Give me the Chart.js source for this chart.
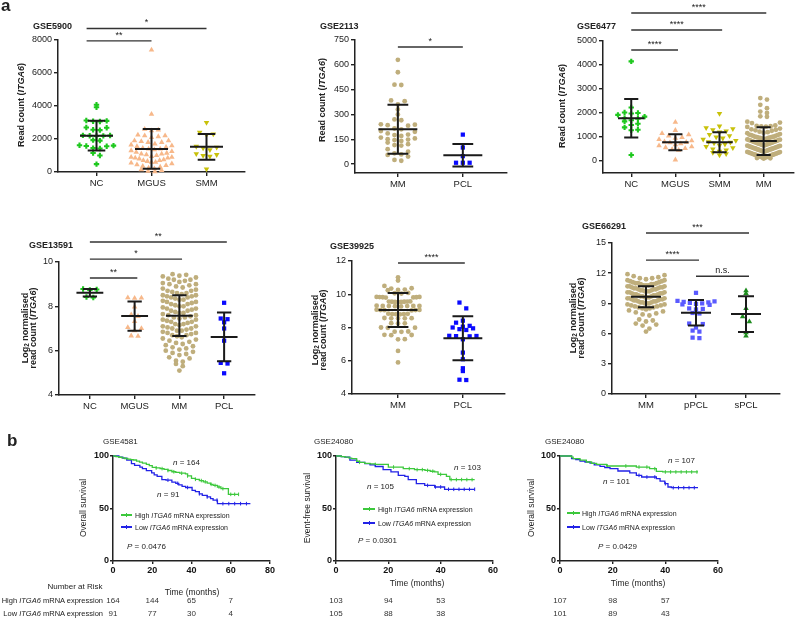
<!DOCTYPE html>
<html><head><meta charset="utf-8">
<script src="https://cdn.jsdelivr.net/npm/chart.js@4.4.1/dist/chart.umd.min.js"></script>
<style>
body{margin:0;background:#fff;}
#root{position:relative;width:798px;height:618px;overflow:hidden;font-family:'Liberation Sans',Arial,sans-serif;color:#222;}
canvas{position:absolute;}
.t{position:absolute;white-space:nowrap;line-height:1;}
sub{font-size:0.7em;vertical-align:-0.2em;line-height:0;}
</style></head><body><div id="root"></div>
<script>
// ---------------- DATA ----------------
// GSE5900
const cats5900 = ['NC','MGUS','SMM'];
const nc5900 = [4080,3920,3120,3080,3100,3060,2700,2680,2560,2540,2220,2200,2190,2210,2180,1930,1900,1620,1580,1560,1600,1420,1450,1150,1000,480];
const mgus5900 = [7400,3500,2600,2550,2500,2250,2200,2200,2150,2100,1900,1900,1850,1800,1800,1700,1650,1600,1550,1500,1450,1400,1400,1350,1300,1250,1200,1150,1100,1100,1050,1000,950,900,900,850,850,800,750,700,700,650,600,600,550,500,450,400,350,300,250,200,150,100,50,20];
const smm5900 = [3000,2400,2250,2300,1550,1500,1350,1450,1100,1050,1000,950,180];
const mean5900 = [2200,1400,1530];
const sd5900 = [900,1200,780];
const yTicks5900 = [0,2000,4000,6000,8000];
const sig5900 = [['NC','MGUS','**'],['NC','SMM','*']];

// GSE2113
const cats2113 = ['MM','PCL'];
const mm2113 = [630,555,480,478,385,380,360,330,300,270,265,240,238,235,232,215,210,200,195,185,178,175,170,160,155,150,148,145,140,130,120,115,112,90,75,65,58,55,45,25,20];
const pcl2113 = [178,100,48,8,8,8];
const mean2113 = [210,54];
const sd2113 = [148,68];
const yTicks2113 = [0,150,300,450,600,750];
const sig2113 = [['MM','PCL','*']];

// GSE6477
const cats6477 = ['NC','MGUS','SMM','MM'];
const nc6477 = [4150,2230,2020,2000,1980,1920,1850,1780,1760,1700,1650,1550,1500,1400,1300,1280,250];
const mgus6477 = [1620,1280,1150,1100,1050,980,950,900,850,800,780,760,720,680,640,600,560,520,480,450,50];
const smm6477 = [1980,1450,1380,1340,1300,1250,1200,1100,1050,1000,950,900,850,800,780,750,700,650,600,550,500,450,400,350,300,250];
const mm6477 = [2620,2560,2340,2200,2060,2000,1860,1840,1640,1600,1580,1480,1460,1450,1440,1430,1420,1350,1320,1300,1280,1260,1220,1200,1180,1160,1120,1100,1090,1080,1060,1050,1020,1010,1000,990,980,970,960,950,930,920,910,900,890,880,870,860,850,840,830,820,810,800,790,780,770,760,750,740,730,720,710,700,690,680,670,660,650,640,630,620,610,600,590,580,570,560,550,540,530,520,510,500,490,480,470,460,450,440,430,420,410,400,390,380,370,360,350,340,330,320,310,300,290,280,270,260,250,240,230,220,210,200,190,180,170,160,150,140,130,120,110,100];
const mean6477 = [1780,780,780,830];
const sd6477 = [800,330,420,580];
const yTicks6477 = [0,1000,2000,3000,4000,5000];
const sig6477 = [['NC','MGUS','****'],['NC','SMM','****'],['NC','MM','****']];

// GSE13591
const cats13591 = ['NC','MGUS','MM','PCL'];
const nc13591 = [8.78,8.76,8.74,8.42,8.40];
const mgus13591 = [8.39,8.38,8.37,7.98,7.62,7.55,7.32,7.05,7.0,6.9,6.67,6.65];
const mm13591 = [9.45,9.42,9.38,9.35,9.3,9.25,9.2,9.2,9.15,9.1,9.05,9.0,9.0,8.95,8.9,8.85,8.8,8.75,8.7,8.7,8.65,8.6,8.6,8.55,8.5,8.5,8.45,8.45,8.4,8.4,8.35,8.3,8.3,8.25,8.2,8.2,8.15,8.1,8.1,8.05,8.0,8.0,7.95,7.9,7.9,7.85,7.8,7.8,7.75,7.7,7.7,7.65,7.6,7.6,7.55,7.5,7.5,7.45,7.4,7.4,7.35,7.3,7.3,7.25,7.2,7.2,7.15,7.1,7.1,7.05,7.0,7.0,6.95,6.9,6.9,6.85,6.8,6.8,6.75,6.7,6.7,6.65,6.6,6.55,6.5,6.45,6.4,6.35,6.3,6.25,6.2,6.15,6.1,6.05,6.0,5.95,5.9,5.85,5.8,5.7,5.65,5.55,5.5,5.4,5.3,5.1];
const pcl13591 = [8.16,7.45,7.42,7.28,7.0,6.45,5.45,5.42,4.98];
const mean13591 = [8.61,7.56,7.58,6.62];
const sd13591 = [0.17,0.66,0.92,1.1];
const yTicks13591 = [4,6,8,10];
const sig13591 = [['NC','MGUS','**'],['NC','MM','*'],['NC','PCL','**']];

// GSE39925
const cats39925 = ['MM','PCL'];
const mm39925 = [11.02,10.82,10.5,10.36,10.34,10.28,10.26,10.24,10.08,10.06,10.04,9.84,9.83,9.82,9.81,9.8,9.82,9.84,9.56,9.55,9.54,9.56,9.57,9.53,9.55,9.54,9.3,9.29,9.28,9.3,9.31,9.27,9.29,9.3,9.05,9.04,9.06,9.05,9.03,9.07,8.81,8.8,8.82,8.79,8.81,8.83,8.55,8.56,8.54,8.55,8.57,8.25,8.26,8.24,7.99,8.0,7.98,7.75,7.76,7.74,7.55,7.56,7.54,7.29,7.3,6.59,5.9];
const pcl39925 = [9.5,9.15,8.41,8.29,8.1,8.05,8.0,7.95,7.9,7.85,7.5,7.49,7.48,7.47,7.29,6.49,6.09,5.55,5.38,4.84,4.86];
const mean39925 = [9.05,7.35];
const sd39925 = [1.02,1.32];
const yTicks39925 = [4,6,8,10,12];
const sig39925 = [['MM','PCL','****']];

// GSE66291
const cats66291 = ['MM','pPCL','sPCL'];
const mm66291 = [11.9,11.8,11.7,11.6,11.5,11.5,11.4,11.3,11.3,11.2,11.2,11.1,11.1,11.0,11.0,11.0,10.9,10.9,10.9,10.8,10.8,10.8,10.7,10.7,10.7,10.6,10.6,10.6,10.5,10.5,10.5,10.4,10.4,10.4,10.3,10.3,10.3,10.2,10.2,10.2,10.1,10.1,10.1,10.0,10.0,10.0,9.9,9.9,9.9,9.8,9.8,9.8,9.7,9.7,9.7,9.6,9.6,9.6,9.5,9.5,9.5,9.4,9.4,9.4,9.3,9.3,9.3,9.2,9.2,9.2,9.1,9.1,9.1,9.0,9.0,9.0,8.9,8.9,8.8,8.8,8.7,8.7,8.6,8.6,8.5,8.5,8.4,8.3,8.2,8.1,8.0,7.9,7.8,7.4,7.3,7.2,7.0,6.9,6.8,6.5,6.2];
const ppcl66291 = [10.05,9.25,9.2,9.15,9.1,9.05,9.0,8.95,8.9,8.85,8.5,8.45,8.4,8.05,8.0,7.0,6.95,6.6,6.3,6.2,5.6,5.55];
const spcl66291 = [10.26,10.0,8.51,7.68,7.18,6.09,5.76];
const mean66291 = [9.66,8.08,7.94];
const sd66291 = [1.05,1.27,1.77];
const yTicks66291 = [0,3,6,9,12,15];
const sig66291 = [['MM','sPCL','***'],['MM','pPCL','****'],['pPCL','sPCL','n.s.']];

// Kaplan-Meier: GSE4581 (overall survival)
const tHigh4581 = [0,1.5,3,4.5,6,7.5,9,10.3,12,13.5,15,17,18.5,20,22,24,26,28,30,32,34,36.9,38,40,42,44,46,48,49.7,51,53.2,55,58.8,64];
const sHigh4581 = [100,99.4,98.8,98.2,97.6,97,96.6,96.2,95.2,94.2,93.2,92,90.8,89.2,88.6,88,87.2,86.2,85,84.4,83.6,82.9,81,78.7,77.8,76.6,75.4,74.2,73,72,70.5,68.9,63.5,63.5];
const tLow4581 = [0,3,5,7,9.4,11,13.7,15,17,19.7,21,22.5,24.9,27,30,32,33.5,35.2,37,40.3,42,44,45.5,48,49.7,51,53.2,70];
const sLow4581 = [100,99,98,96,92.7,91,89.5,88,86,84,82,80.6,77.5,77,75.2,74,72.5,71.1,70,67.3,66,64,62.5,61,59.4,58,54.6,54.6];
const cHigh4581 = [22,25,28,31,35,38,42,45,47,50,52,54,56,60,62,64];
const cLow4581 = [28,33,38,44,48,53,56,59,62,65,68];
const riskTimes4581 = [0,20,40,60];
const riskHigh4581 = [164,144,65,7];
const riskLow4581 = [91,77,30,4];

// GSE24080 (event-free survival)
const tHighEFS = [0,2,3.4,5,6,7.9,9,11,13,15,20,25.7,30,34,36,37.7,39,42.2,43.5,53];
const sHighEFS = [100,99.5,99,98,97.5,95,94,93,92.5,92,89.5,88,87,86.3,85.5,84.8,82.5,80.6,77.5,77.5];
const tLowEFS = [0,2,3.4,5.3,7.9,11,13,15,18,21,23.8,26.3,27.6,30.7,33.9,37.7,41.5,53];
const sLowEFS = [100,99.5,99,96,94,92.7,91.5,90,87,84.8,81.6,80.6,77.5,73.7,72,70.5,68.3,68.3];
const cHighEFS = [9,15,22,28,31,33,35,37,40,44,46,48,50,52];
const cLowEFS = [35,38,40,43,45,47,49,51,53];
const riskTimesEFS = [0,20,40];
const riskHighEFS = [103,94,53];
const riskLowEFS = [105,88,38];

// GSE24080 (overall survival)
const tHighOS = [0,4.4,5,7.6,10,12,13.9,17.7,29,34,36.6,39,52.4];
const sHighOS = [100,99,97.5,96,94.3,93,92,90.5,89.5,87.9,85.4,84.8,84.8];
const tLowOS = [0,4.4,6,7.6,9.5,11.4,13,15.2,17,19,22,26.5,29,31,36.6,38,39.8,41,42.3,52.4];
const sLowOS = [100,97.5,96.5,95.2,94.3,93.3,91.5,90.2,89,88,85.7,84,81.6,80,78.4,76,73.6,70.5,69.8,69.8];
const cHighOS = [18,25,30,33,36,40,42,44,46,48,50,52];
const cLowOS = [30,33,36,40,43,45,47,49,51];
const riskTimesOS = [0,20,40];
const riskHighOS = [107,98,57];
const riskLowOS = [101,89,43];

// ---------------- RENDER ----------------
Chart.defaults.font.family = "'Liberation Sans', Arial, sans-serif";
Chart.defaults.color = '#222';
const root = document.getElementById('root');
const AX = '#222';

const ST = {
  green:{shape:'cross', r:2.7, bw:2.1, color:'#1ec81e'},
  peach:{shape:'triangle', r:3.2, bw:0, color:'#f7b88a'},
  olive:{shape:'triangle', r:3.2, bw:0, rot:180, color:'#c8c10a'},
  tan:{shape:'circle', r:2.4, bw:0, color:'#bfae7c'},
  blue:{shape:'rect', r:3, bw:0, color:'#0a0aff'},
  lblue:{shape:'rect', r:3, bw:0, color:'#5a5aff'},
  dgreen:{shape:'triangle', r:3.2, bw:0, color:'#1e8c1e'}
};

function makeCanvas(box){
  const c = document.createElement('canvas');
  c.width = box[2]; c.height = box[3];
  c.style.left = box[0]+'px'; c.style.top = box[1]+'px';
  c.style.width = box[2]+'px'; c.style.height = box[3]+'px';
  root.appendChild(c); return c;
}
function pad(box, plot, wy, hx){
  return {left: plot[0]-box[0]-wy, top: plot[1]-box[1], right: box[0]+box[2]-plot[2], bottom: box[1]+box[3]-plot[3]-hx};
}
// beeswarm layout: values in the same height band are spread sideways
function swarm(vals, ci, pxY, pxX, binPx, stepPx, maxHalfPx){
  const binH = binPx/pxY, bins = new Map(), pts = [];
  vals.forEach(v => { const k = Math.round(v/binH); if(!bins.has(k)) bins.set(k, []); bins.get(k).push(v); });
  bins.forEach(arr => {
    arr.sort((a,b)=>a-b);
    const n = arr.length;
    let step = stepPx;
    if (n > 1) step = Math.min(step, 2*maxHalfPx/(n-1));
    arr.forEach((v,i) => {
      let off;
      if (n % 2) { off = i === 0 ? 0 : (i % 2 ? 1 : -1) * Math.ceil(i/2); }
      else { off = (i % 2 === 0 ? 1 : -1) * (Math.floor(i/2) + 0.5); }
      pts.push({x: ci + off*step/pxX, y: v});
    });
  });
  return pts;
}
const statsPlugin = {
  id:'stats',
  afterDatasetsDraw(chart, args, o){
    const {ctx, scales:{x, y}} = chart;
    ctx.save();
    ctx.strokeStyle = '#1a1a1a'; ctx.lineWidth = 2;
    o.mean.forEach((m,i) => {
      const sd = o.sd[i];
      const yc = y.getPixelForValue(m), yt = y.getPixelForValue(m+sd), yb = y.getPixelForValue(m-sd);
      const xl = x.getPixelForValue(i-0.3), xr = x.getPixelForValue(i+0.3);
      const cl = x.getPixelForValue(i-0.16), cr = x.getPixelForValue(i+0.16), xc = x.getPixelForValue(i);
      ctx.beginPath();
      ctx.moveTo(xl,yc); ctx.lineTo(xr,yc);
      ctx.moveTo(cl,yt); ctx.lineTo(cr,yt);
      ctx.moveTo(cl,yb); ctx.lineTo(cr,yb);
      ctx.moveTo(xc,yt); ctx.lineTo(xc,yb);
      ctx.stroke();
    });
    ctx.lineWidth = 1.4; ctx.strokeStyle = '#333'; ctx.fillStyle = '#222';
    ctx.font = "9px 'Liberation Sans', Arial"; ctx.textAlign = 'center'; ctx.textBaseline = 'bottom';
    const sp = o.sigPad || [0, 0.06];
    o.sig.forEach((s,j) => {
      const a = o.cats.indexOf(s[0]), b = o.cats.indexOf(s[1]);
      const py = y.getPixelForValue(o.sigY[j]);
      const xa = x.getPixelForValue(a+sp[0]), xb = x.getPixelForValue(b+sp[1]);
      ctx.beginPath(); ctx.moveTo(xa,py); ctx.lineTo(xb,py); ctx.stroke();
      ctx.fillText(s[2], (xa+xb)/2, py-1);
    });
    ctx.restore();
  }
};
const riskPlugin = {
  id:'risk',
  afterDraw(chart, args, o){
    if (!o.rows) return;
    const {ctx, scales:{x}} = chart;
    ctx.save();
    ctx.font = "8px 'Liberation Sans', Arial"; ctx.fillStyle = '#333';
    ctx.textAlign = 'center'; ctx.textBaseline = 'middle';
    o.rows.forEach((row, r) => row.forEach((n, i) => ctx.fillText(String(n), x.getPixelForValue(o.times[i]), o.rowY[r])));
    ctx.restore();
  }
};
function axisStyle(tl){
  return {
    grid:{display:true, drawOnChartArea:false, drawTicks:true, tickLength:tl, color:AX, lineWidth:1.4},
    border:{display:true, color:AX, width:1.5}
  };
}
function dotChart(p){
  const c = makeCanvas(p.box);
  const pxY = (p.plot[3]-p.plot[1])/(p.y[1]-p.y[0]);
  const pxX = (p.plot[2]-p.plot[0])/(p.x[1]-p.x[0]);
  const datasets = p.groups.map((g,i) => {
    const st = p.styles[i];
    return {
      data: swarm(g, i, pxY, pxX, 6.2, 6.8, (p.spread || 0.37)*pxX),
      pointStyle: st.shape, pointRadius: st.r, pointHoverRadius: st.r, pointRotation: st.rot || 0,
      pointBackgroundColor: st.color, pointBorderColor: st.color, pointBorderWidth: st.bw,
      backgroundColor: st.color, borderColor: st.color, clip: false
    };
  });
  new Chart(c, {
    type:'scatter',
    data:{datasets},
    options:{
      responsive:false, animation:false, events:[],
      layout:{padding: pad(p.box, p.plot, 40, 20)},
      plugins:{legend:{display:false}, tooltip:{enabled:false},
        stats:{mean:p.mean, sd:p.sd, cats:p.cats, sig:p.sig, sigY:p.sigY, sigPad:p.sigPad}},
      scales:{
        x:Object.assign({type:'linear', min:p.x[0], max:p.x[1],
          afterBuildTicks:s => { s.ticks = p.cats.map((_,i)=>({value:i})); },
          afterFit:s => { s.height = 20; },
          ticks:{callback:v => p.cats[Math.round(v)], font:{size:9.5}, color:'#222', padding:2, autoSkip:false, maxRotation:0}
        }, axisStyle(4)),
        y:Object.assign({type:'linear', min:p.y[0], max:p.y[1],
          afterBuildTicks:s => { s.ticks = p.ticks.map(v=>({value:v})); },
          afterFit:s => { s.width = 40; },
          ticks:{callback:v => String(v), font:{size:9}, color:'#222', padding:2}
        }, axisStyle(4))
      }
    },
    plugins:[statsPlugin]
  });
}
function stepAt(ts, ss, t){ let v = ss[0]; for (let i=0;i<ts.length;i++){ if (ts[i] <= t) v = ss[i]; } return v; }
const KG = '#3cc83c', KB = '#2222e6';
function kmChart(k){
  const c = makeCanvas(k.box);
  const line = (ts, ss, col) => ({data: ts.map((t,i)=>({x:t, y:ss[i]})), borderColor:col, borderWidth:1.3, stepped:true, pointRadius:0, fill:false, clip:false});
  const cens = (cs, ts, ss, col) => ({data: cs.map(t=>({x:t, y:stepAt(ts,ss,t)})), showLine:false, pointStyle:'line', pointRotation:90, pointRadius:1.8, pointBorderColor:col, pointBorderWidth:1, borderColor:col, clip:false});
  new Chart(c, {
    type:'line',
    data:{datasets:[
      line(k.tH, k.sH, KG), line(k.tL, k.sL, KB),
      cens(k.cH, k.tH, k.sH, KG), cens(k.cL, k.tL, k.sL, KB)
    ]},
    options:{
      responsive:false, animation:false, events:[],
      layout:{padding: pad(k.box, k.plot, 30, 18)},
      plugins:{legend:{display:false}, tooltip:{enabled:false},
        risk:{rows:[k.rH, k.rL], times:k.rT, rowY:[601-k.box[1], 614-k.box[1]]}},
      scales:{
        x:Object.assign({type:'linear', min:0, max:k.xmax,
          afterBuildTicks:s => { const a=[]; for(let v=0; v<=k.xmax; v+=20) a.push({value:v}); s.ticks=a; },
          afterFit:s => { s.height = 18; },
          ticks:{font:{size:9, weight:'bold'}, color:'#111', padding:1.5, maxRotation:0}
        }, axisStyle(3)),
        y:Object.assign({type:'linear', min:0, max:100,
          afterBuildTicks:s => { s.ticks = [0,50,100].map(v=>({value:v})); },
          afterFit:s => { s.width = 30; },
          ticks:{font:{size:9, weight:'bold'}, color:'#111', padding:1}
        }, axisStyle(3))
      }
    },
    plugins:[riskPlugin]
  });
}

// dot-plot panels
dotChart({box:[0,0,262,195], plot:[58,40,245,172], x:[-0.7,2.7], y:[0,8000], cats:cats5900,
  groups:[nc5900, mgus5900, smm5900], styles:[ST.green, ST.peach, ST.olive], mean:mean5900, sd:sd5900,
  ticks:yTicks5900, sig:sig5900, sigY:[7950,8700], sigPad:[-0.18,0]});
dotChart({box:[265,0,262,195], plot:[355,40,507,173], x:[-0.66,1.68], y:[-54,750], cats:cats2113,
  groups:[mm2113, pcl2113], styles:[ST.tan, ST.blue], mean:mean2113, sd:sd2113,
  ticks:yTicks2113, sig:sig2113, sigY:[708], sigPad:[0,0], spread:0.33});
dotChart({box:[530,0,268,195], plot:[603,41,797,173], x:[-0.64,3.67], y:[-500,5000], cats:cats6477,
  groups:[nc6477, mgus6477, smm6477, mm6477], styles:[ST.green, ST.peach, ST.olive, ST.tan], mean:mean6477, sd:sd6477,
  ticks:yTicks6477, sig:sig6477, sigY:[4625,5458,6167]});
dotChart({box:[0,200,262,218], plot:[59,262,255,395], x:[-0.69,3.69], y:[4,10], cats:cats13591,
  groups:[nc13591, mgus13591, mm13591, pcl13591], styles:[ST.green, ST.peach, ST.tan, ST.blue], mean:mean13591, sd:sd13591,
  ticks:yTicks13591, sig:sig13591, sigY:[9.28,10.13,10.9]});
dotChart({box:[265,200,262,218], plot:[352,261,505,394], x:[-0.71,1.65], y:[4,12], cats:cats39925,
  groups:[mm39925, pcl39925], styles:[ST.tan, ST.blue], mean:mean39925, sd:sd39925,
  ticks:yTicks39925, sig:sig39925, sigY:[11.88], sigPad:[0,0.03], spread:0.33});
dotChart({box:[530,200,268,218], plot:[612,243,780,394], x:[-0.68,2.68], y:[0,15], cats:cats66291,
  groups:[mm66291, ppcl66291, spcl66291], styles:[ST.tan, ST.lblue, ST.dgreen], mean:mean66291, sd:sd66291,
  ticks:yTicks66291, sig:sig66291, sigY:[16.0,13.3,11.7]});

// KM panels
kmChart({box:[0,420,285,198], plot:[113,456,270,561], xmax:80,
  tH:tHigh4581, sH:sHigh4581, tL:tLow4581, sL:sLow4581, cH:cHigh4581, cL:cLow4581,
  rT:riskTimes4581, rH:riskHigh4581, rL:riskLow4581});
kmChart({box:[275,420,240,198], plot:[336,456,493,561], xmax:60,
  tH:tHighEFS, sH:sHighEFS, tL:tLowEFS, sL:sLowEFS, cH:cHighEFS, cL:cLowEFS,
  rT:riskTimesEFS, rH:riskHighEFS, rL:riskLowEFS});
kmChart({box:[530,420,230,198], plot:[560,456,718,561], xmax:60,
  tH:tHighOS, sH:sHighOS, tL:tLowOS, sL:sLowOS, cH:cHighOS, cL:cLowOS,
  rT:riskTimesOS, rH:riskHighOS, rL:riskLowOS});

// ---------------- TEXT ----------------
function label(html, x, y, css, anchor){
  const d = document.createElement('div');
  d.className = 't'; d.innerHTML = html;
  d.style.cssText += css + ';left:' + x + 'px;top:' + y + 'px;';
  d.style.transform = anchor === 'c' ? 'translate(-50%,-50%)' : anchor === 'r' ? 'translate(-100%,-50%)' : 'translate(0,-50%)';
  root.appendChild(d);
}
function vlabel(html, x, y, css){
  const d = document.createElement('div');
  d.className = 't'; d.innerHTML = html;
  d.style.cssText += css + ';left:' + x + 'px;top:' + y + 'px;text-align:center;';
  d.style.transform = 'translate(-50%,-50%) rotate(-90deg)';
  root.appendChild(d);
}
const B9 = 'font-weight:bold;font-size:9px';
label('a', 1, 5, 'font-weight:bold;font-size:17px');
label('b', 7, 440, 'font-weight:bold;font-size:17px');
label('GSE5900', 33, 26, B9);
label('GSE2113', 320, 26, B9);
label('GSE6477', 577, 26, B9);
label('GSE13591', 29, 245, B9);
label('GSE39925', 330, 246, B9);
label('GSE66291', 582, 226, B9);
vlabel('Read count (<i>ITGA6</i>)', 21, 105, B9);
vlabel('Read count (<i>ITGA6</i>)', 322, 100, B9);
vlabel('Read count (<i>ITGA6</i>)', 562, 106, B9);
const Y2 = B9 + ';line-height:8px';
vlabel('Log<sub>2</sub> normalised<br>read count (<i>ITGA6</i>)', 28.5, 328, Y2);
vlabel('Log<sub>2</sub> normalised<br>read count (<i>ITGA6</i>)', 318.5, 330, Y2);
vlabel('Log<sub>2</sub> normalised<br>read count (<i>ITGA6</i>)', 576.5, 318, Y2);

// KM texts
const R8 = 'font-size:8px;color:#222';
const L7 = 'font-size:7px;color:#222';
function legend(x1, x2, yh, yl, tx){
  [[yh, KG, 'High'], [yl, KB, 'Low']].forEach(([y, col, w]) => {
    const s = document.createElement('div');
    s.style.cssText = 'position:absolute;left:'+x1+'px;top:'+(y-0.7)+'px;width:'+(x2-x1)+'px;height:1.4px;background:'+col;
    root.appendChild(s);
    const t = document.createElement('div');
    t.style.cssText = 'position:absolute;left:'+((x1+x2)/2-0.5)+'px;top:'+(y-2)+'px;width:1px;height:4px;background:'+col;
    root.appendChild(t);
    label(w + ' <i>ITGA6</i> mRNA expression', tx, y, L7);
  });
}
label('GSE4581', 103, 442, R8);
label('GSE24080', 314, 442, R8);
label('GSE24080', 545, 442, R8);
vlabel('Overall survival', 83, 508, 'font-size:8.5px');
vlabel('Event-free survival', 307, 508, 'font-size:8.5px');
vlabel('Overall survival', 531, 508, 'font-size:8.5px');
label('Time (months)', 192, 592, 'font-size:8.5px', 'c');
label('Time (months)', 417, 583, 'font-size:8.5px', 'c');
label('Time (months)', 638, 583, 'font-size:8.5px', 'c');
label('<i>n</i> = 164', 173, 463, R8);
label('<i>n</i> = 91', 157, 495, R8);
label('<i>n</i> = 103', 454, 468, R8);
label('<i>n</i> = 105', 367, 487, R8);
label('<i>n</i> = 107', 668, 461, R8);
label('<i>n</i> = 101', 603, 482, R8);
label('<i>P</i> = 0.0476', 127, 547, R8);
label('<i>P</i> = 0.0301', 358, 541, R8);
label('<i>P</i> = 0.0429', 598, 547, R8);
legend(121, 132, 515, 527, 135);
legend(363, 375, 509, 523, 378);
legend(567, 580, 513, 527, 582);
label('Number at Risk', 75, 587, R8, 'c');
label('High <i>ITGA6</i> mRNA expression', 103, 601, 'font-size:7.5px;color:#222', 'r');
label('Low <i>ITGA6</i> mRNA expression', 103, 614, 'font-size:7.5px;color:#222', 'r');
</script>
</body></html>
